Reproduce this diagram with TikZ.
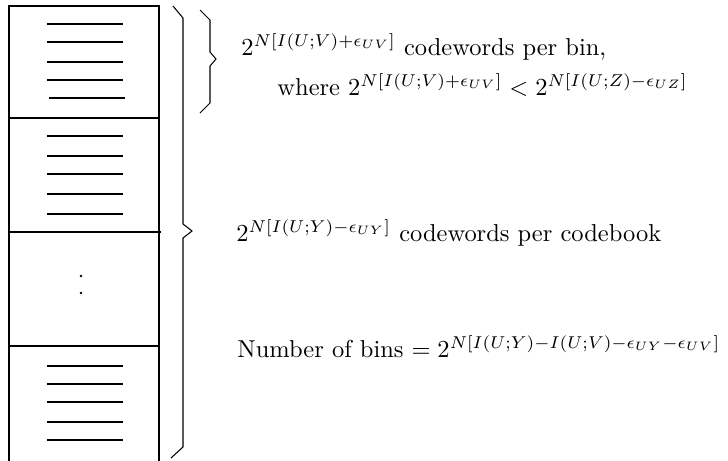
\documentclass[tikz,border=0pt]{standalone}
\begin{document}
\begin{tikzpicture}[x=0.385pt,y=-0.385pt,
  frame/.style={line width=0.9pt},
  cw/.style={line width=0.45pt},
  brace/.style={line width=0.4pt},
  lbl/.style={anchor=base west,inner sep=0pt,font=\fontsize{10}{12}\selectfont,scale=0.942,transform shape}]
\useasboundingbox (0,0) rectangle (728,460);
\begin{scope}
\clip (0,0) rectangle (728,460);
% codebook column
\draw[frame] (9,480) -- (9,6) -- (159,6) -- (159,480);
\draw[frame] (9,118) -- (159,118);
\draw[frame] (9,232) -- (161,232);
\draw[frame] (9,346) -- (158,346);
% codewords
\foreach \y in {24,42,62,80} \draw[cw] (47,\y) -- (123,\y);
\draw[cw] (49,98) -- (125,98);
\foreach \y in {136,156,174,194,214} \draw[cw] (47,\y) -- (123,\y);
\foreach \y in {366,384,402,422,440} \draw[cw] (47,\y) -- (123,\y);
\fill (81,276) circle (1.3);
\fill (81,293) circle (1.3);
% big brace
\draw[brace] (173,6) -- (183,18) -- (183,224) -- (192,231) -- (183,238) -- (183,447) -- (171,458);
% small brace
\draw[brace] (200,10) -- (210,20) -- (210,52) -- (216,59) -- (210,66) -- (210,103) -- (200,113);
\end{scope}
\node[lbl] (t1) at (241,55) {$2^{N[I(U;V)+\epsilon_{UV}]}$ codewords per bin,};
\node[lbl] (t2) at (277,95) {where $2^{N[I(U;V)+\epsilon_{UV}]}<2^{N[I(U;Z)-\epsilon_{UZ}]}$};
\node[lbl] (t3) at (236,241) {$2^{N[I(U;Y)-\epsilon_{UY}]}$ codewords per codebook};
\node[lbl] (t4) at (237,357) {Number of bins $=2^{N[I(U;Y)-I(U;V)-\epsilon_{UY}-\epsilon_{UV}]}$};
\end{tikzpicture}
\end{document}
